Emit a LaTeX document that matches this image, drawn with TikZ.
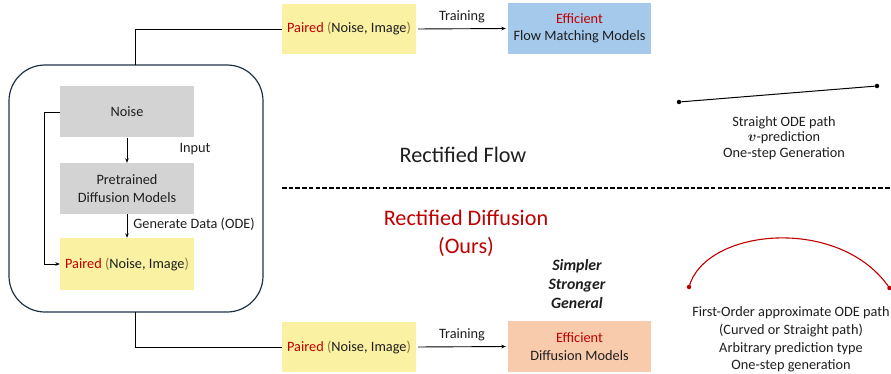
\documentclass[tikz,border=0pt]{standalone}
\usepackage{fontspec}
\setmainfont{Carlito}
\usepackage{bm}
\usetikzlibrary{arrows.meta}
\definecolor{myred}{RGB}{192,0,0}
\definecolor{boxgray}{RGB}{211,211,211}
\definecolor{boxyellow}{RGB}{250,241,163}
\definecolor{boxblue}{RGB}{164,201,235}
\definecolor{boxsalmon}{RGB}{248,203,173}
\definecolor{paren}{RGB}{140,120,60}
\definecolor{frame}{RGB}{30,50,70}
\definecolor{txt}{RGB}{30,30,30}
\newcommand{\pairtxt}{\textcolor{myred}{Paired} \textcolor{paren}{(}Noise, Image\textcolor{paren}{)}}
\begin{document}
\begin{tikzpicture}[x=1pt,y=-1pt,
  every node/.style={font=\fontsize{14.3}{17.5}\selectfont, text=txt, inner sep=0pt},
  gray box/.style={fill=boxgray, minimum width=134, minimum height=51, align=center},
  yellow box/.style={fill=boxyellow, minimum width=134, minimum height=51, align=center},
  conn/.style={line width=0.9pt, draw=black},
  arr/.style={conn, -{Stealth[length=4.5pt,width=3.6pt]}},
  title/.style={font=\fontsize{22.2}{28}\selectfont, align=center},
  dot/.style={circle, fill=#1, minimum size=4.5pt, inner sep=0pt}
]
\useasboundingbox (0,0) rectangle (891,374);

% outer rounded frame
\draw[frame, line width=1.2pt, rounded corners=36pt] (9,65) rectangle (263,312);
\coordinate (tj) at (135,65);
\coordinate (bj) at (135,312);

% inner boxes
\node[gray box] (noise) at (127,112) {Noise};
\node[gray box] (pre) at (127,188.5) {Pretrained\\Diffusion Models};
\node[yellow box, minimum height=52] (pairin) at (127,264) {\pairtxt};

\draw[arr] (noise.south) -- (pre.north);
\draw[arr] (pre.south) -- (pairin.north);
\node (inputlbl) at (195,149) {Input};
\node (genlbl) at (194,224) {Generate Data (ODE)};
\draw[arr] (noise.west) -- ++(-15,0) |- (pairin.west);

% top row
\node[yellow box, minimum height=50] (pairtop) at (349,29) {\pairtxt};
\node[fill=boxblue, minimum width=143, minimum height=51, align=center] (fm) at (579.5,28.5) {\textcolor{myred}{Efficient}\\Flow Matching Models};
\draw[conn] (tj) |- (pairtop.west);
\draw[arr, shorten <=2pt, shorten >=2pt] (pairtop.east) -- node[above=5pt] (trtop) {Training} (fm.west);

% bottom row
\node[yellow box, minimum height=50] (pairbot) at (349,347) {\pairtxt};
\node[fill=boxsalmon, minimum width=143, minimum height=51, align=center] (dm) at (579.5,346.5) {\textcolor{myred}{Efficient}\\Diffusion Models};
\draw[conn] (bj) |- (pairbot.west);
\draw[arr, shorten <=2pt, shorten >=2pt] (pairbot.east) -- node[above=5pt] (trbot) {Training} (dm.west);

% titles and divider
\node[title] (rf) at (463,155) {Rectified Flow};
\coordinate (dl) at (282,188);
\coordinate (dr) at (891,188);
\draw[line width=1.4pt, dash pattern=on 4.6pt off 2.1pt] (dl) -- (dr);
\node[title, text=myred] (rd) at (466,233) {Rectified Diffusion\\(Ours)};
\node[font=\fontsize{15.8}{19}\selectfont\bfseries\itshape, align=center] (ssg) at (577,284) {Simpler\\Stronger\\General};

% straight path
\node[dot=black] (sa) at (679,102) {};
\node[dot=black] (sb) at (877,86) {};
\draw[line width=1pt] (sa) -- (sb);
\node[align=center, font=\fontsize{14.3}{15.3}\selectfont] (stxt) at (784,138) {Straight ODE path\\$\bm{v}$-prediction\\One-step Generation};

% curved path
\node[dot=myred] (ca) at (689,287) {};
\node[dot=myred] (cb) at (889.5,288) {};
\draw[myred, line width=1.1pt] (ca.center) .. controls (705,228) and (840,215) .. (cb.center);
\node[align=center, font=\fontsize{14.3}{17.6}\selectfont] (ctxt) at (791,339.5) {First-Order approximate ODE path\\(Curved or Straight path)\\Arbitrary prediction type\\One-step generation};
\end{tikzpicture}
\end{document}
